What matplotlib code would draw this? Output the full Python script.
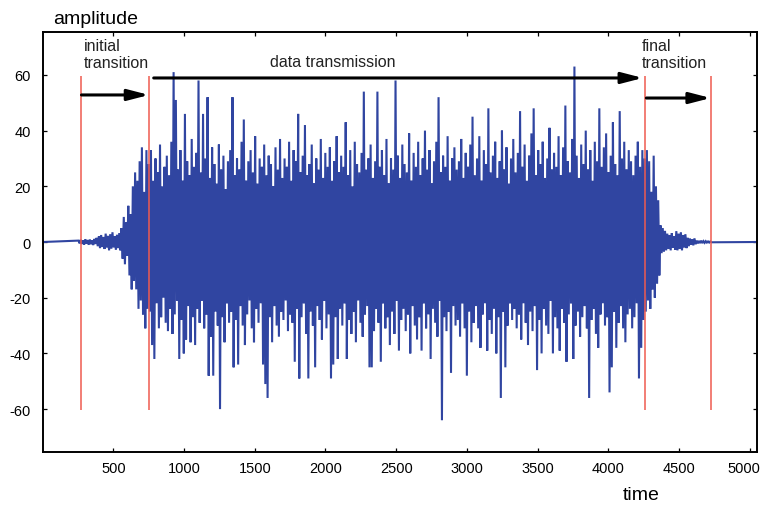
import numpy as np
import matplotlib.pyplot as plt
from matplotlib.transforms import ScaledTranslation

plt.rcParams['font.family'] = ['Liberation Sans', 'DejaVu Sans']
plt.rcParams['axes.unicode_minus'] = False

# positive / negative swing of each oscillation
ramp_up_pos = [0.5, 0.8, 0.6, 1.0, 0.7, 0.9, 0.6, 1.1,
               1.5, 2, 2.5, 1.8, 3, 2.2, 2.8, 3.5, 2, 2.6, 3.2,
               5, 9, 7, 13, 10, 20, 25, 22, 29, 34, 18, 33]
ramp_up_neg = [-0.5, -0.7, -0.9, -0.6, -1.0, -0.8, -1.1, -0.7,
               -1.5, -2.2, -1.8, -2.5, -2, -3, -2.4, -1.9, -2.8, -2.2, -3,
               -6, -8, -5, -12, -17, -14, -17, -24, -21, -26, -31, -24]

body_pos = [28, 33, 22, 30, 25, 35, 20, 27, 31, 24, 36, 61, 51, 26, 33, 22, 46, 29, 24, 37,
            27, 32, 58, 25, 46, 30, 52, 23, 34, 28, 21, 35, 26, 31, 19, 29, 33, 52, 24, 30,
            26, 36, 44, 22, 29, 33, 25, 38, 21, 30, 27, 35, 24, 31, 28, 20, 34, 26, 37, 23,
            30, 27, 36, 22, 33, 29, 46, 25, 31, 42, 24, 28, 35, 21, 30, 26, 37, 23, 32, 27,
            34, 22, 29, 38, 25, 31, 27, 43, 24, 33, 20, 36, 28, 25, 32, 54, 26, 30, 35, 23,
            29, 54, 27, 33, 24, 37, 21, 30, 26, 58, 31, 23, 35, 28, 25, 39, 22, 32, 27, 36,
            24, 30, 40, 26, 33, 21, 29, 36, 52, 25, 31, 27, 38, 22, 30, 34, 26, 29, 37, 23,
            32, 27, 35, 45, 24, 30, 38, 22, 33, 28, 48, 25, 31, 36, 23, 29, 40, 26, 34, 21,
            30, 37, 25, 32, 47, 27, 35, 22, 31, 39, 48, 24, 33, 28, 36, 23, 30, 41, 26, 32,
            27, 38, 24, 34, 49, 29, 25, 37, 63, 31, 23, 35, 28, 40, 26, 33, 22, 36, 29, 48,
            27, 34, 39, 25, 31, 43, 28, 24, 47, 30, 36, 26, 33, 29, 24, 31, 36, 27, 33, 30]
body_neg = [-25, -37, -42, -22, -31, -27, -20, -29, -32, -24, -33, -26, -21, -42, -28, -40, -35, -23, -36, -27,
            -37, -24, -29, -21, -31, -26, -48, -34, -48, -25, -30, -60, -27, -36, -22, -29, -25, -45, -28, -44,
            -23, -30, -37, -26, -21, -31, -36, -24, -29, -22, -44, -51, -56, -27, -36, -23, -30, -34, -25, -28,
            -21, -32, -26, -29, -43, -24, -49, -27, -22, -33, -49, -25, -30, -45, -23, -28, -35, -21, -31, -26,
            -49, -44, -27, -42, -24, -30, -22, -42, -28, -33, -25, -36, -21, -29, -34, -26, -23, -45, -45, -32,
            -24, -29, -43, -22, -31, -27, -37, -25, -33, -21, -39, -28, -24, -32, -26, -40, -23, -30, -35, -27,
            -39, -22, -31, -26, -42, -24, -29, -34, -21, -64, -27, -32, -25, -47, -23, -30, -28, -34, -22, -31,
            -48, -25, -36, -29, -23, -31, -38, -26, -22, -39, -28, -33, -24, -40, -27, -56, -25, -45, -30, -22,
            -28, -24, -31, -26, -35, -22, -29, -37, -25, -32, -23, -46, -28, -40, -24, -30, -33, -21, -40, -27,
            -31, -39, -24, -29, -43, -26, -22, -42, -30, -25, -34, -27, -23, -31, -56, -28, -24, -33, -38, -26,
            -22, -30, -27, -54, -45, -25, -38, -29, -23, -31, -36, -26, -24, -31, -27, -22, -49, -38, -28, -25]

decay_pos = [33, 29, 18, 31, 20, 15, 6, 5, 4, 3, 2.5, 3.2, 2,
             3.9, 3, 3.5, 2.5, 2.8, 1.5, 1.2, 1, 1.3,
             0.5, 0.4, 0.5, 0.3, 0.3, 0.2, 0.2]
decay_neg = [-21, -24, -17, -20, -15, -12, -4, -3.5, -3, -2.5, -3, -2, -2.8,
             -3, -2.5, -3, -2, -2.2, -1.5, -1, -1.2, -0.8,
             -0.5, -0.4, -0.4, -0.3, -0.2, -0.2, -0.1]

t_min, t_max = 0, 5050
burst_start, burst_end = 253, 4730

phase_bounds = [274, 752, 4260, 4725]
x_ticks = [500, 1000, 1500, 2000, 2500, 3000, 3500, 4000, 4500, 5000]
y_ticks = [-60, -40, -20, 0, 20, 40, 60]

# interleave the swings into one sampled trace
pos = ramp_up_pos + body_pos + decay_pos
neg = ramp_up_neg + body_neg + decay_neg
swing = np.empty(2 * len(pos))
swing[0::2] = pos
swing[1::2] = neg
t = np.concatenate([[t_min], np.linspace(burst_start, burst_end, len(swing)), [t_max]])
amp = np.concatenate([[0], swing, [0]])

fig = plt.figure(figsize=(7.63, 5.06), dpi=100)
ax = fig.add_axes([0.056, 0.1053, 0.9357, 0.8289])

ax.plot(t, amp, color='#3045a1', lw=1.5, solid_joinstyle='miter', zorder=2)
ax.vlines(phase_bounds, -60.5, 59.5, color='#ef5b50', lw=1.1, zorder=3)

arrow = dict(arrowstyle='-|>,head_length=0.85,head_width=0.22', mutation_scale=15,
             lw=2.2, color='black', shrinkA=0, shrinkB=0)
ax.annotate('', xy=(phase_bounds[1], 52.8), xytext=(phase_bounds[0], 52.8), arrowprops=arrow, zorder=4)
ax.annotate('', xy=(4245, 58.9), xytext=(785, 58.9), arrowprops=arrow, zorder=4)
ax.annotate('', xy=(phase_bounds[3], 51.7), xytext=(4270, 51.7), arrowprops=arrow, zorder=4)

ax.text(288, 73.3, 'initial\ntransition', ha='left', va='top', fontsize=11.5, color='#222222')
ax.text(2054, 63.2, 'data transmission', ha='center', va='baseline', fontsize=11.5, color='#222222')
ax.text(4235, 73.3, 'final\ntransition', ha='left', va='top', fontsize=11.5, color='#222222')

ax.set_xlim(t_min, t_max)
ax.set_ylim(-75.3, 75.3)
ax.set_xticks(x_ticks)
ax.set_yticks(y_ticks)
ax.tick_params(direction='in', length=3, width=0.9, top=True, right=True, labelsize=10.5)
ax.tick_params(axis='x', pad=7)
ax.tick_params(axis='y', pad=8.5)
for s in ax.spines.values():
    s.set_linewidth(1.4)

# last x label sits against the figure edge: nudge it left a little
last = ax.get_xticklabels()[-1]
last.set_transform(last.get_transform() + ScaledTranslation(-6 / 100, 0, fig.dpi_scale_trans))

fig.text(53 / 763, 1 - 19 / 506, 'amplitude', ha='left', va='center', fontsize=14)
fig.text(623 / 763, 1 - 496 / 506, 'time', ha='left', va='center', fontsize=14)

fig.savefig('out.png', dpi=100)
